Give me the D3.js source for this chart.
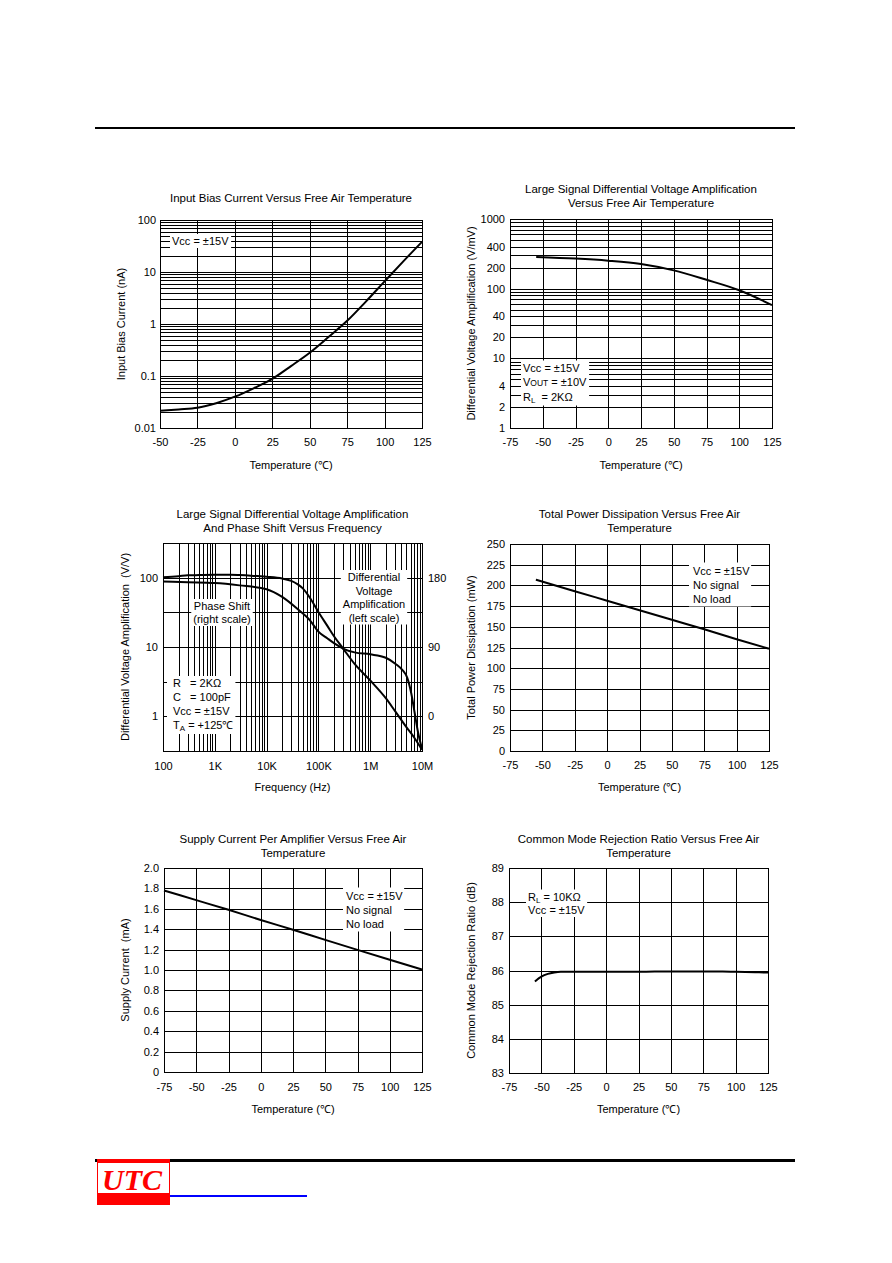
<!DOCTYPE html>
<html><head><meta charset="utf-8">
<script src="https://cdn.jsdelivr.net/npm/d3@7"></script>
<style>
body{margin:0;background:#fff}
svg text{font-family:"Liberation Sans",Arial,Helvetica,sans-serif;fill:#000}
</style>
</head><body>
<svg id="page" width="892" height="1263" xmlns="http://www.w3.org/2000/svg"></svg>
<script>
// ---------------- DATA ----------------
// Chart 1: Input bias current vs temperature
const biasTemp    = [-50,-37.5,-25,-12.5,0,12.5,25,37.5,50,62.5,75,87.5,100,112.5,125];
const biasCurrent = [0.0215,0.0228,0.0245,0.030,0.040,0.058,0.088,0.155,0.28,0.56,1.15,2.7,6.6,16,38];
const biasYTicks  = [0.01,0.1,1,10,100];
const tempTicksA  = [-50,-25,0,25,50,75,100,125];
const tempTicksB  = [-75,-50,-25,0,25,50,75,100,125];

// Chart 2: Large signal differential voltage amplification vs temperature
const gainTemp   = [-55,-25,0,25,50,75,100,125];
const gainVmV    = [285,270,252,226,183,134,95,58];
const gainYTicks = [1,2,4,10,20,40,100,200,400,1000];

// Chart 3: amplification and phase shift vs frequency
const ampFreq = [100,200,300,500,1e3,2e3,3e3,5e3,1e4,2e4,3e4,4e4,5e4,7e4,1e5,1.5e5,2e5,3e5,5e5,1e6,2e6,3e6,5e6,7e6,1e7];
const ampVV   = [101,105,108,109,110,110,109,107,103,97,90,80,70,50,32,20,14.3,9.5,5.7,3.3,1.83,1.2,0.7,0.5,0.33];
const phaseFreq = [100,300,1e3,3e3,1e4,2e4,4e4,7e4,1e5,1.5e5,2e5,3e5,5e5,1e6,2e6,3.1e6,4.2e6,5.2e6,6.2e6,7.2e6,8.4e6,1e7];
const phaseDeg  = [175,174,173,170,165,155,139,124,110,101,95,88,83,80.5,76,68,60,50,30,5,-21,-42];
const freqTicks      = [1e2,1e3,1e4,1e5,1e6,1e7];
const freqTickLabels = ["100","1K","10K","100K","1M","10M"];
const ampYTicks      = [1,10,100];
const phaseYTicks    = [0,90,180];
const phaseGrid      = [-45,0,45,90,135,180,225];

// Chart 4: Total power dissipation vs temperature
const powerTemp   = [-55,-25,0,25,50,75,100,125];
const powerMW     = [207,193,181.5,170,158.5,147,135,123.5];
const powerYTicks = [0,25,50,75,100,125,150,175,200,225,250];

// Chart 5: Supply current per amplifier vs temperature
const supplyTemp   = [-75,-50,-25,0,25,50,75,100,125];
const supplyMA     = [1.78,1.685,1.59,1.49,1.395,1.295,1.197,1.10,1.005];
const supplyYTicks = [0,0.2,0.4,0.6,0.8,1.0,1.2,1.4,1.6,1.8,2.0];

// Chart 6: CMRR vs temperature
const cmrrTemp   = [-55,-50,-45,-40,-35,-25,0,25,50,75,90,100,115,125];
const cmrrDB     = [85.68,85.82,85.9,85.94,85.96,85.965,85.965,85.965,85.97,85.97,85.97,85.96,85.95,85.94];
const cmrrYTicks = [83,84,85,86,87,88,89];

// ---------------- DRAWING ----------------
const FONT = '"Liberation Sans", Arial, Helvetica, sans-serif';
const svg = d3.select("#page");

function logGrid(lo, hi) {
  const out = [];
  for (let d = Math.round(Math.log10(lo)); d < Math.round(Math.log10(hi)); d++)
    for (let k = 1; k <= 9; k++) out.push(k * Math.pow(10, d));
  out.push(hi);
  return out;
}

function panel(o) {
  const g = svg.append("g");
  const x = o.x.copy().range([o.x0, o.x1]);
  const y = o.y.copy().range([o.y1, o.y0]);
  const px = v => Math.round(x(v)) + 0.5;
  const py = v => Math.round(y(v)) + 0.5;
  g.append("g").selectAll("line").data(o.xGrid).join("line")
    .attr("x1", px).attr("x2", px).attr("y1", o.y0 + 0.5).attr("y2", o.y1 + 0.5)
    .attr("stroke", "#000").attr("stroke-width", 1);
  g.append("g").selectAll("line").data(o.yGrid).join("line")
    .attr("y1", py).attr("y2", py).attr("x1", o.x0 + 0.5).attr("x2", o.x1 + 0.5)
    .attr("stroke", "#000").attr("stroke-width", 1);
  g.append("rect").attr("x", o.x0 + 0.5).attr("y", o.y0 + 0.5)
    .attr("width", o.x1 - o.x0).attr("height", o.y1 - o.y0)
    .attr("fill", "none").attr("stroke", "#000").attr("stroke-width", 1);
  g.append("g").attr("transform", `translate(0,${o.y1})`)
    .call(d3.axisBottom(x).tickValues(o.xTicks).tickSize(0).tickPadding(o.xPad || 10)
      .tickFormat(o.xFmt || (d => String(d))))
    .call(a => { a.select(".domain").remove(); a.attr("font-size", 11).attr("font-family", FONT); });
  return { g, x, y, o };
}

function leftAxis(g, scale, ticks, fmt, x0, pad) {
  g.append("g").attr("transform", `translate(${x0},0)`)
    .call(d3.axisLeft(scale).tickValues(ticks).tickSize(0).tickPadding(pad).tickFormat(fmt))
    .call(a => { a.select(".domain").remove(); a.attr("font-size", 11).attr("font-family", FONT); });
}
function rightAxis(g, scale, ticks, fmt, x1, pad) {
  g.append("g").attr("transform", `translate(${x1},0)`)
    .call(d3.axisRight(scale).tickValues(ticks).tickSize(0).tickPadding(pad).tickFormat(fmt))
    .call(a => { a.select(".domain").remove(); a.attr("font-size", 11).attr("font-family", FONT); });
}

function titles(p, lines, baselines, xTitle, xBase, yTitle, yBase) {
  const o = p.o, cx = (o.x0 + o.x1) / 2, cy = (o.y0 + o.y1) / 2;
  lines.forEach((t, i) => p.g.append("text").attr("x", cx).attr("y", baselines[i])
    .attr("text-anchor", "middle").attr("font-size", 11.5).text(t));
  p.g.append("text").attr("x", cx).attr("y", xBase).attr("text-anchor", "middle")
    .attr("font-size", 11).style("white-space", "pre").text(xTitle);
  p.g.append("text").attr("transform", `translate(${yBase},${cy}) rotate(-90)`)
    .attr("text-anchor", "middle").attr("font-size", 11).style("white-space", "pre").text(yTitle);
}

// lines: array of arrays of segments; segment = string | {t, sub:true} | {t, sc:true}
function note(g, x, y, lines, opt = {}) {
  const lh = opt.lh || 14, anchor = opt.anchor || "start";
  const pad = opt.pad || [2, 1, 2, 1]; // left, top, right, bottom
  const ng = g.append("g");
  const tg = ng.append("g");
  lines.forEach((segs, i) => {
    const t = tg.append("text").attr("x", x).attr("y", y + i * lh).attr("text-anchor", anchor)
      .attr("font-size", 11).style("white-space", "pre");
    let shift = 0;
    segs.forEach(s => {
      const ts = t.append("tspan");
      if (typeof s === "string") {
        ts.text(s);
        if (shift) { ts.attr("dy", -shift); shift = 0; }
      } else if (s.sub) {
        ts.text(s.t).attr("font-size", 8).attr("dy", 2 - shift); shift = 2;
      } else if (s.sc) {
        ts.text(s.t).attr("font-size", 8.5);
        if (shift) { ts.attr("dy", -shift); shift = 0; }
      }
    });
  });
  const b = tg.node().getBBox();
  ng.insert("rect", "g").attr("x", b.x - pad[0]).attr("y", b.y - pad[1])
    .attr("width", b.width + pad[0] + pad[2]).attr("height", b.height + pad[1] + pad[3])
    .attr("fill", "#fff");
}

function curve(p, xs, ys, yScale, smooth) {
  const ysc = yScale || p.y;
  p.g.append("path").datum(xs.map((v, i) => [v, ys[i]]))
    .attr("d", d3.line().x(d => p.x(d[0])).y(d => ysc(d[1]))
      .curve(smooth ? d3.curveCatmullRom.alpha(0.5) : d3.curveMonotoneX))
    .attr("fill", "none").attr("stroke", "#000").attr("stroke-width", 2)
    .attr("stroke-linejoin", "round");
}

// ---- page decorations ----
svg.append("rect").attr("x", 95).attr("y", 127).attr("width", 700).attr("height", 2).attr("fill", "#000");
svg.append("rect").attr("x", 95).attr("y", 1159).attr("width", 700).attr("height", 3).attr("fill", "#000");
svg.append("rect").attr("x", 97).attr("y", 1159).attr("width", 73).attr("height", 46).attr("fill", "#ff0000");
svg.append("rect").attr("x", 98).attr("y", 1163).attr("width", 71).attr("height", 30).attr("fill", "#fff");
svg.append("text").attr("x", 102).attr("y", 1190).attr("font-size", 30).attr("font-style", "italic")
  .attr("font-weight", "bold")
  .style("font-family", '"Liberation Serif","Times New Roman",serif').style("fill", "#ff0000").text("UTC");
svg.append("rect").attr("x", 170).attr("y", 1195).attr("width", 137).attr("height", 2).attr("fill", "#0000ff");

// ---- Chart 1 ----
const p1 = panel({ x0: 160, x1: 422, y0: 220, y1: 428,
  x: d3.scaleLinear().domain([-50, 125]), y: d3.scaleLog().domain([0.01, 100]),
  xGrid: tempTicksA, yGrid: logGrid(0.01, 100), xTicks: tempTicksA, xPad: 10 });
leftAxis(p1.g, p1.y, biasYTicks, d => String(d), 160, 4);
titles(p1, ["Input Bias Current Versus Free Air Temperature"], [202],
  "Temperature (\u2103)", 469, "Input Bias Current (nA)", 125);
note(p1.g, 172, 245, [["Vcc = \u00b115V"]]);
curve(p1, biasTemp, biasCurrent, null, true);

// ---- Chart 2 ----
const p2 = panel({ x0: 510, x1: 772, y0: 219, y1: 428,
  x: d3.scaleLinear().domain([-75, 125]), y: d3.scaleLog().domain([1, 1000]),
  xGrid: tempTicksB, yGrid: logGrid(1, 1000), xTicks: tempTicksB, xPad: 10 });
leftAxis(p2.g, p2.y, gainYTicks, d => String(d), 510, 5);
titles(p2, ["Large Signal Differential Voltage Amplification", "Versus Free Air Temperature"], [193, 207],
  "Temperature (\u2103)", 469, "Differential Voltage Amplification (V/mV)", 475);
note(p2.g, 523, 371.5, [["Vcc = \u00b115V"], ["V", { sc: true, t: "OUT" }, " = \u00b110V"], ["R", { sub: true, t: "L" }, "  = 2K\u03a9"]], { lh: 14.5 });
curve(p2, gainTemp, gainVmV, null, true);

// ---- Chart 3 ----
const p3 = panel({ x0: 163, x1: 422, y0: 543, y1: 751,
  x: d3.scaleLog().domain([100, 1e7]), y: d3.scaleLinear().domain([-45, 225]),
  xGrid: logGrid(100, 1e7), yGrid: phaseGrid, xTicks: freqTicks,
  xFmt: (d, i) => freqTickLabels[i], xPad: 11 });
const yAmp = d3.scaleLog().domain([Math.pow(10, -0.5), Math.pow(10, 2.5)]).range([751, 543]);
leftAxis(p3.g, yAmp, ampYTicks, d => String(d), 163, 5);
rightAxis(p3.g, p3.y, phaseYTicks, d => String(d), 422, 6);
titles(p3, ["Large Signal Differential Voltage Amplification", "And Phase Shift Versus Frequency"], [518, 532],
  "Frequency (Hz)", 791, "Differential Voltage Amplification  (V/V)", 129);
note(p3.g, 222, 610, [["Phase Shift"], ["(right scale)"]], { anchor: "middle", lh: 13 });
note(p3.g, 374, 581, [["Differential"], ["Voltage"], ["Amplification"], ["(left scale)"]], { anchor: "middle", lh: 13.5 });
note(p3.g, 173, 687, [["R   = 2K\u03a9"], ["C   = 100pF"], ["Vcc = \u00b115V"], ["T", { sub: true, t: "A" }, " = +125\u2103"]], { lh: 14, pad: [6, 1, 2, 1] });
curve(p3, ampFreq, ampVV, yAmp);
curve(p3, phaseFreq, phaseDeg);

// ---- Chart 4 ----
const p4 = panel({ x0: 510, x1: 769, y0: 544, y1: 751,
  x: d3.scaleLinear().domain([-75, 125]), y: d3.scaleLinear().domain([0, 250]),
  xGrid: tempTicksB, yGrid: powerYTicks, xTicks: tempTicksB, xPad: 10 });
leftAxis(p4.g, p4.y, powerYTicks, d => String(d), 510, 5);
titles(p4, ["Total Power Dissipation Versus Free Air", "Temperature"], [518, 532],
  "Temperature (\u2103)", 791, "Total Power Dissipation (mW)", 475);
note(p4.g, 693, 574.5, [["Vcc = \u00b115V"], ["No signal"], ["No load"]], { pad: [4, 2, 1, 2] });
curve(p4, powerTemp, powerMW);

// ---- Chart 5 ----
const p5 = panel({ x0: 164, x1: 422, y0: 868, y1: 1072,
  x: d3.scaleLinear().domain([-75, 125]), y: d3.scaleLinear().domain([0, 2]),
  xGrid: tempTicksB, yGrid: supplyYTicks, xTicks: tempTicksB, xPad: 11 });
leftAxis(p5.g, p5.y, supplyYTicks, d => (d === 0 ? "0" : d3.format(".1f")(d)), 164, 5);
titles(p5, ["Supply Current Per Amplifier Versus Free Air", "Temperature"], [843, 857],
  "Temperature (\u2103)", 1113, "Supply Current  (mA)", 129);
note(p5.g, 346, 899.5, [["Vcc = \u00b115V"], ["No signal"], ["No load"]], { pad: [3, 2, 1, 2] });
curve(p5, supplyTemp, supplyMA);

// ---- Chart 6 ----
const p6 = panel({ x0: 509, x1: 768, y0: 868, y1: 1073,
  x: d3.scaleLinear().domain([-75, 125]), y: d3.scaleLinear().domain([83, 89]),
  xGrid: tempTicksB, yGrid: cmrrYTicks, xTicks: tempTicksB, xPad: 10 });
leftAxis(p6.g, p6.y, cmrrYTicks, d => String(d), 509, 5);
titles(p6, ["Common Mode Rejection Ratio Versus Free Air", "Temperature"], [843, 857],
  "Temperature (\u2103)", 1113, "Common Mode Rejection Ratio (dB)", 475);
note(p6.g, 528, 900.5, [["R", { sub: true, t: "L" }, " = 10K\u03a9"], ["Vcc = \u00b115V"]], { lh: 13.5 });
curve(p6, cmrrTemp, cmrrDB);
</script>
</body></html>
